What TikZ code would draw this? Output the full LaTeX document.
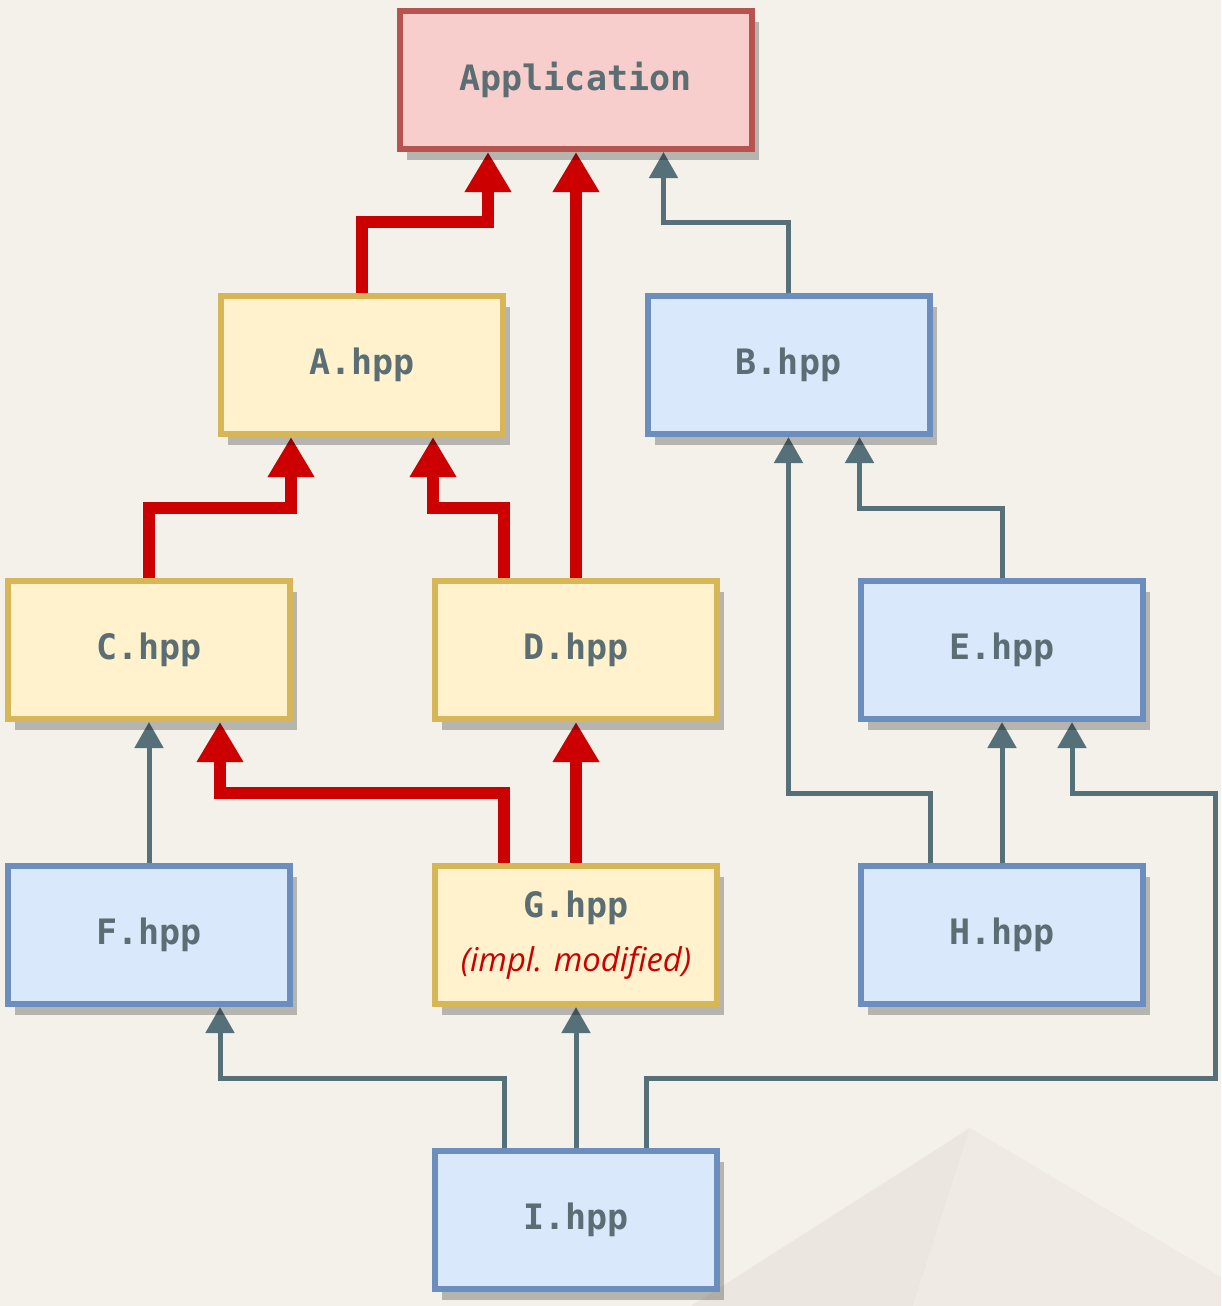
\documentclass[tikz,border=0pt]{standalone}
\usepackage{fontspec}
\usepackage{xcolor}
\usetikzlibrary{arrows.meta,shadows,calc}
\newfontfamily\boxfont{DejaVu Sans Mono}
\newfontfamily\notefont{Open Sans}

\definecolor{paper}{HTML}{F4F1EA}
\definecolor{facetL}{HTML}{EBE7E0}
\definecolor{facetR}{HTML}{EFEBE4}
\definecolor{txtgray}{HTML}{5A6E74}
\definecolor{hotred}{HTML}{CC0000}
\definecolor{slate}{HTML}{56707A}
\definecolor{appfill}{HTML}{F8CECC}
\definecolor{appline}{HTML}{B85450}
\definecolor{yelfill}{HTML}{FFF2CC}
\definecolor{yelline}{HTML}{D6B656}
\definecolor{bluefill}{HTML}{DAE8FC}
\definecolor{blueline}{HTML}{6C8EBF}

\pgfdeclarelayer{backdrop}
\pgfdeclarelayer{conn}
\pgfsetlayers{backdrop,conn,main}

\begin{document}
\begin{tikzpicture}[x=0.5pt,y=-0.5pt,
    hdr/.style={draw,line width=3pt,minimum height=69pt,inner sep=0pt,
      text=txtgray,font=\boxfont\bfseries\fontsize{17.5}{21}\selectfont,
      drop shadow={shadow xshift=3.5pt,shadow yshift=-5.5pt,fill=black,opacity=0.25}},
    appbox/.style={hdr,minimum width=176pt,fill=appfill,draw=appline},
    changed/.style={hdr,minimum width=141pt,fill=yelfill,draw=yelline},
    clean/.style={hdr,minimum width=141pt,fill=bluefill,draw=blueline},
    rebuild/.style={draw=hotred,line width=6pt,-{Triangle[width=22pt,length=20pt]}},
    keep/.style={draw=slate,line width=2.5pt,-{Triangle[width=14pt,length=13pt]}}]

    % backdrop and the faint pyramid
    \begin{pgfonlayer}{backdrop}
    \fill[paper] (0,0) rectangle (1221,1306);
    \fill[facetL] (970,1128) -- (691,1306) -- (913,1306) -- cycle;
    \fill[facetR] (970,1128) -- (913,1306) -- (1221,1306) -- (1221,1277) -- cycle;
    \end{pgfonlayer}

    % headers
    \node[appbox] (app) at (575.5,80) {Application};
    \node[changed] (a) at (362,365) {A.hpp};
    \node[clean] (b) at (788.5,365) {B.hpp};
    \node[changed] (c) at (149,650) {C.hpp};
    \node[changed] (d) at (576,650) {D.hpp};
    \node[clean] (e) at (1002,650) {E.hpp};
    \node[clean] (f) at (149,935) {F.hpp};
    \node[changed,align=center] (g) at (576,935) {G.hpp\\[6pt]{\notefont\mdseries\itshape\fontsize{16.4}{19}\selectfont\color{hotred}(impl. modified)}};
    \node[clean] (h) at (1002,935) {H.hpp};
    \node[clean] (i) at (576,1220) {I.hpp};

    % includes
    \begin{pgfonlayer}{conn}
    \draw[rebuild] (a.north) -- ++(0,-71) -| ($(app.south)+(-87.5,0)$);
    \draw[rebuild] (d.north) -- (d.north |- app.south);
    \draw[keep] (b.north) -- ++(0,-71) -| ($(app.south)+(88,0)$);
    \draw[rebuild] (c.north) -- ++(0,-70) -| ($(a.south)+(-71,0)$);
    \draw[rebuild] ($(d.north)+(-72,0)$) -- ++(0,-70) -| ($(a.south)+(71,0)$);
    \draw[keep] ($(h.north)+(-72,0)$) -- ++(0,-70) -| (b.south);
    \draw[keep] (e.north) -- ++(0,-70) -| ($(b.south)+(71,0)$);
    \draw[keep] (f.north) -- (c.south);
    \draw[rebuild] ($(g.north)+(-72,0)$) -- ++(0,-70) -| ($(c.south)+(71,0)$);
    \draw[rebuild] (g.north) -- (d.south);
    \draw[keep] (h.north) -- (e.south);
    \draw[keep] ($(i.north)+(-72,0)$) -- ++(0,-70) -| ($(f.south)+(71,0)$);
    \draw[keep] (i.north) -- (g.south);
    \draw[keep] ($(i.north)+(70,0)$) -- ++(0,-70) -- ++(569,0) -- ++(0,-285) -| ($(e.south)+(70,0)$);
    \end{pgfonlayer}
\end{tikzpicture}
\end{document}
